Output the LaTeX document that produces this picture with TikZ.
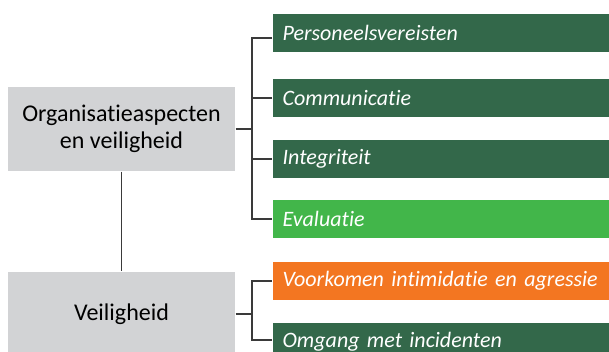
\documentclass[tikz,border=0pt]{standalone}
\usepackage{fontspec}
\setmainfont{Carlito}[Ligatures=NoCommon,RawFeature={-clig}]
\usepackage{tikz}
\usetikzlibrary{positioning}
\definecolor{grijs}{HTML}{D2D3D5}
\definecolor{donkergroen}{HTML}{33684A}
\definecolor{lichtgroen}{HTML}{42B64A}
\definecolor{oranje}{HTML}{F37621}
\definecolor{lijn}{HTML}{3A3A3A}

\begin{document}
\begin{tikzpicture}[x=1pt,y=-1pt,line width=1.2pt]
  \tikzstyle{hoofd}=[fill=grijs,text=black,minimum width=227pt,minimum height=84pt,
                     align=center,font=\fontsize{24}{27}\selectfont]
  \tikzstyle{onder}=[anchor=west,text=white,text width=317pt,inner xsep=10pt,
                     minimum height=38pt,align=left,font=\fontsize{22}{24}\selectfont\itshape]
  \useasboundingbox (0,0) rectangle (609,352);

  \node[hoofd] (O) at (121.5,129) {Organisatieaspecten\\en veiligheid};
  \node[hoofd] (V) at (121.5,314) {Veiligheid};

  \node[onder,fill=donkergroen] (P)  at (272,33)  {Personeelsvereisten};
  \node[onder,fill=donkergroen] (C)  at (272,98)  {Communicatie};
  \node[onder,fill=donkergroen] (I)  at (272,159) {Integriteit};
  \node[onder,fill=lichtgroen]  (E)  at (272,219) {Evaluatie};
  \node[onder,fill=oranje]      (Vo) at (272,281) {Voorkomen intimidatie en agressie};
  \node[onder,fill=donkergroen] (Om) at (272,342) {Omgang met incidenten};

  \coordinate (b1) at (252,129);
  \coordinate (b2) at (252,314);

  \path[draw=lijn] (O) edge (V)
        (O.east) edge (b1)
        (V.east) edge (b2);
  \draw[lijn] ([yshift=-5pt]P.west) -| (b1)
              (C.west) -| (b1)
              (I.west) -| (b1)
              (E.west) -| (b1);
  \draw[lijn] (Vo.west) -| (b2)
              ([yshift=2pt]Om.west) -| (b2);
\end{tikzpicture}
\end{document}
